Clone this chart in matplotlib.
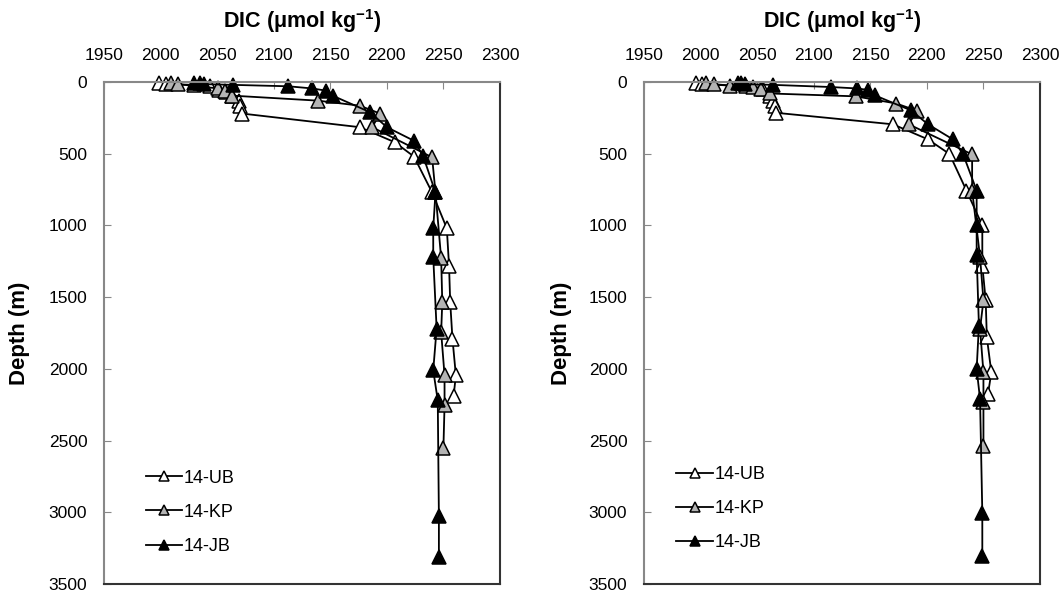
import matplotlib
matplotlib.use("Agg")
import matplotlib.pyplot as plt

plt.rcParams["font.family"] = ["Liberation Sans", "DejaVu Sans"]
plt.rcParams["mathtext.default"] = "regular"

# depth (m) and DIC (umol/kg)
left_ub_depth = [10, 15, 20, 25, 55, 70, 100, 135, 170, 220, 315, 420, 520, 770, 1020, 1285, 1535, 1790, 2045, 2190]
left_ub_dic = [1999, 2005, 2030, 2044, 2052, 2058, 2063, 2069, 2070, 2072, 2176, 2207, 2224, 2240, 2253, 2255, 2256, 2258, 2261, 2259]
left_kp_depth = [10, 15, 45, 60, 95, 130, 165, 220, 315, 525, 770, 1230, 1535, 1745, 2045, 2255, 2550]
left_kp_dic = [2009, 2015, 2051, 2057, 2063, 2139, 2176, 2194, 2187, 2240, 2243, 2248, 2249, 2248, 2251, 2251, 2250]
left_jb_depth = [5, 10, 15, 20, 30, 45, 60, 95, 210, 315, 410, 515, 770, 1020, 1220, 1720, 2010, 2220, 3025, 3315]
left_jb_dic = [2030, 2035, 2038, 2064, 2113, 2134, 2146, 2152, 2185, 2200, 2224, 2232, 2243, 2241, 2241, 2244, 2241, 2245, 2246, 2246]

right_ub_depth = [10, 15, 30, 50, 95, 130, 165, 215, 295, 400, 502, 757, 1000, 1280, 1523, 1780, 2025, 2176]
right_ub_dic = [1996, 2001, 2040, 2055, 2061, 2064, 2066, 2067, 2170, 2201, 2220, 2235, 2249, 2249, 2252, 2253, 2257, 2254]
right_kp_depth = [10, 15, 25, 35, 50, 80, 100, 150, 200, 295, 505, 757, 1220, 1523, 1720, 2025, 2234, 2537]
right_kp_dic = [2005, 2012, 2026, 2046, 2053, 2061, 2137, 2173, 2191, 2184, 2240, 2240, 2247, 2250, 2247, 2250, 2250, 2250]
right_jb_depth = [5, 10, 15, 20, 35, 45, 55, 93, 198, 295, 400, 503, 757, 1000, 1209, 1698, 2001, 2211, 3003, 3306]
right_jb_dic = [2033, 2036, 2039, 2064, 2115, 2138, 2148, 2154, 2186, 2201, 2223, 2232, 2244, 2244, 2244, 2246, 2244, 2247, 2249, 2249]

labels = ["14-UB", "14-KP", "14-JB"]
fills = ["white", "#b4b4b4", "black"]


def draw_panel(ax, series, leg_x, leg_y, ylab_x):
    for (dic, depth), lab, fc in zip(series, labels, fills):
        ax.plot(dic, depth, color="black", lw=1.3, marker="^", ms=10,
                mfc=fc, mec="black", mew=1.1, label=lab, clip_on=False)

    ax.set_xlim(1950, 2300)
    ax.set_ylim(3500, 0)
    ax.set_xticks(range(1950, 2301, 50))
    ax.set_yticks(range(0, 3501, 500))
    ax.xaxis.tick_top()
    ax.tick_params(axis="x", direction="in", length=5, color="#888888",
                   labelsize=12.5, pad=14)
    ax.tick_params(axis="y", direction="in", length=5, color="#888888",
                   labelsize=12.5, pad=12)

    for side in ["left", "top"]:
        ax.spines[side].set_color("#888888")
        ax.spines[side].set_linewidth(1.5)
    for side in ["right", "bottom"]:
        ax.spines[side].set_color("#333333")
        ax.spines[side].set_linewidth(1.5)

    ax.text(0.5, 1.122, "DIC (μmol kg$^{-1}$)", transform=ax.transAxes,
            ha="center", va="center", fontsize=15.5, fontweight="bold")
    ax.set_ylabel("Depth (m)", fontsize=16, fontweight="bold")
    ax.yaxis.set_label_coords(ylab_x, 0.5)

    ax.legend(loc="center left", bbox_to_anchor=(leg_x, leg_y), frameon=False,
              fontsize=13, markerscale=0.75, handlelength=2.0, handletextpad=0.1,
              labelspacing=0.95, borderpad=0, borderaxespad=0)


fig = plt.figure(figsize=(10.62, 5.95), dpi=100)
ax1 = fig.add_axes([0.0979, 0.0185, 0.3729, 0.8437])
ax2 = fig.add_axes([0.6064, 0.0185, 0.3729, 0.8437])

draw_panel(ax1, [(left_ub_dic, left_ub_depth), (left_kp_dic, left_kp_depth),
                 (left_jb_dic, left_jb_depth)], 0.105, 0.143, -0.187)
draw_panel(ax2, [(right_ub_dic, right_ub_depth), (right_kp_dic, right_kp_depth),
                 (right_jb_dic, right_jb_depth)], 0.082, 0.150, -0.182)

fig.savefig("out.png", dpi=100)
